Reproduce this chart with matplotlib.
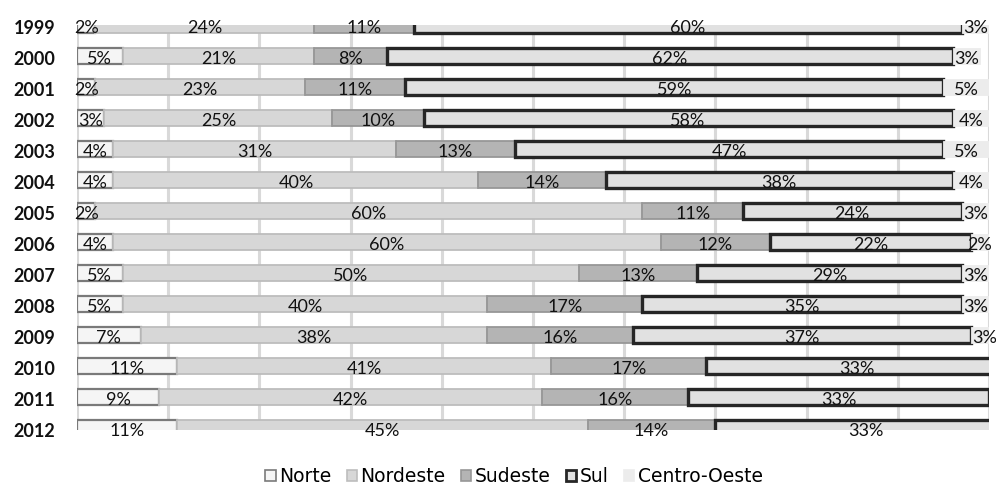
import matplotlib.pyplot as plt
from matplotlib.patches import Patch
import numpy as np

plt.rcParams['font.family'] = ['Lato', 'DejaVu Sans']

# Participação percentual por região, por ano
years = ['1999', '2000', '2001', '2002', '2003', '2004', '2005',
         '2006', '2007', '2008', '2009', '2010', '2011', '2012']
norte = [2, 5, 2, 3, 4, 4, 2, 4, 5, 5, 7, 11, 9, 11]
nordeste = [24, 21, 23, 25, 31, 40, 60, 60, 50, 40, 38, 41, 42, 45]
sudeste = [11, 8, 11, 10, 13, 14, 11, 12, 13, 17, 16, 17, 16, 14]
sul = [60, 62, 59, 58, 47, 38, 24, 22, 29, 35, 37, 33, 33, 33]
centro_oeste = [3, 3, 5, 4, 5, 4, 3, 2, 3, 3, 3, 0, 0, 0]

regioes = ['Norte', 'Nordeste', 'Sudeste', 'Sul', 'Centro-Oeste']
series = [norte, nordeste, sudeste, sul, centro_oeste]

fills = ['#f5f5f5', '#d7d7d7', '#b4b4b4', '#e1e1e1', '#ececec']
edges = ['#7a7a7a', '#bdbdbd', '#979797', '#262626', '#ececec']
lws = [1.6, 1.3, 1.3, 2.4, 0.6]

fig = plt.figure(figsize=(9.96, 4.88), dpi=100)
ax = fig.add_axes([77 / 996, 1 - 430 / 488, 912 / 996, 405.5 / 488])

y = np.arange(len(years))
left = np.zeros(len(years))
for vals, fc, ec, lw in zip(series, fills, edges, lws):
    vals = np.array(vals, dtype=float)
    ax.barh(y, vals, left=left, height=0.52, color=fc, edgecolor=ec,
            linewidth=lw, zorder=2)
    for yi, (l, v) in enumerate(zip(left, vals)):
        if v > 0:
            ax.text(l + v / 2, yi + 0.09, f'{int(v)}%', ha='center', va='center',
                    fontsize=13, color='#111111', clip_on=False, zorder=5)
    left += vals

ax.set_xlim(0, 100)
ax.set_ylim(13.065, -0.026)
ax.set_xticks(np.arange(0, 101, 10))
ax.set_xticklabels([])
ax.set_yticks([])
ax.tick_params(length=0)
ax.grid(axis='x', color='#d9d9d9', linewidth=2.2, zorder=0)
ax.set_axisbelow(True)
for s in ax.spines.values():
    s.set_visible(False)

# rótulos dos anos à esquerda
tr = ax.get_yaxis_transform()
for yi, yr in enumerate(years):
    ax.text(-0.047, yi + 0.1, yr, transform=tr, ha='center', va='center',
            fontsize=13, fontweight='bold', color='#111111', clip_on=False)

handles = [Patch(facecolor=fc, edgecolor=ec, linewidth=1.2)
           for fc, ec in zip(fills, edges)]
handles[3] = Patch(facecolor=fills[3], edgecolor=edges[3], linewidth=2)
fig.legend(handles, regioes, loc='center', bbox_to_anchor=(0.516, 0.024),
           ncol=5, frameon=False, handlelength=0.55, handleheight=0.55,
           handletextpad=0.2, columnspacing=0.8, borderpad=0.1,
           prop={'family': 'DejaVu Sans', 'size': 13.5})

fig.savefig('out.png', dpi=100)
